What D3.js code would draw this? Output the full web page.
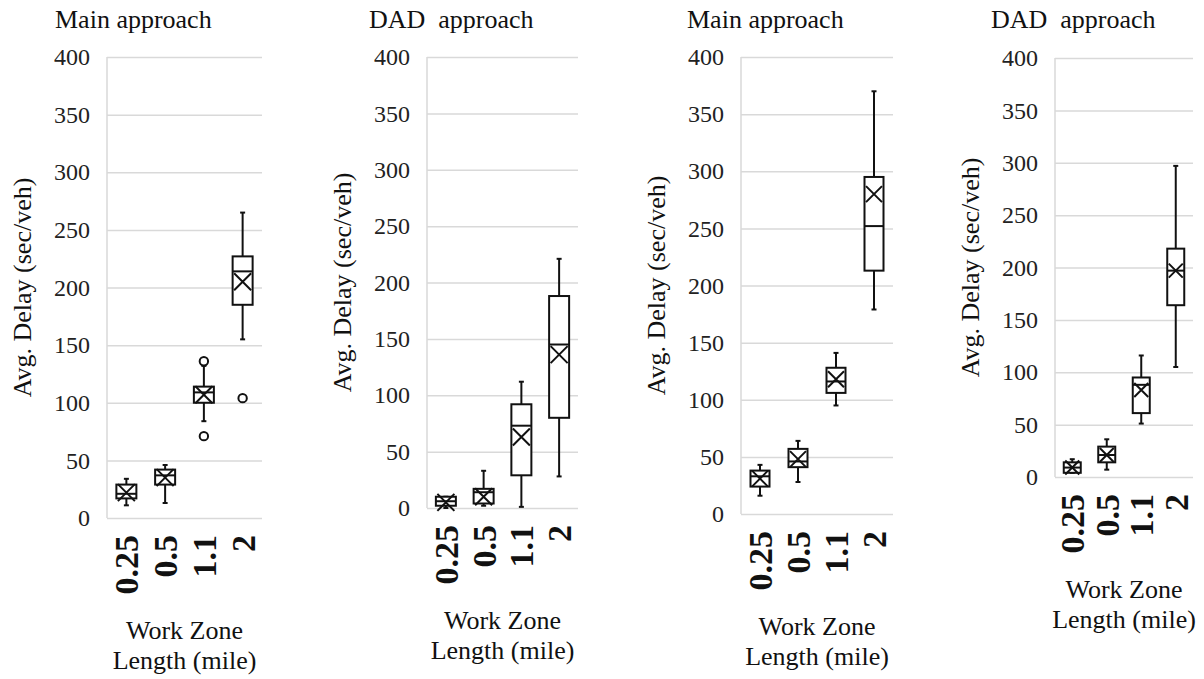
<!DOCTYPE html>
<html><head><meta charset="utf-8">
<script src="https://cdn.jsdelivr.net/npm/d3@7"></script>
<style>
html,body{margin:0;padding:0;background:#fff;}
</style></head>
<body><svg id="chart" width="1204" height="679" font-family="Liberation Serif, DejaVu Serif, serif"></svg>
<script>
// ---- data ----
const categories = ["0.25", "0.5", "1.1", "2"];
const yTicks = [0, 50, 100, 150, 200, 250, 300, 350, 400];
const panelTitles = ["Main approach", "DAD  approach", "Main approach", "DAD  approach"];
const yAxisTitle = "Avg. Delay (sec/veh)";
const xAxisTitle = ["Work Zone", "Length (mile)"];

// each: [whiskerLow, q1, median, q3, whiskerHigh, mean]
const panel1Stats = [[11,17,21,29,34,22],[13,29,37,42,46,35],[84,100,109,114,132,107],[155,185,214,227,265,205]];
const panel1Outliers = [[],[],[136,71],[104]];
const panel2Stats = [[0,2,6,10,10,5],[2,4,14,17,33,10],[1,29,73,92,112,63],[28,80,145,188,221,136]];
const panel2Outliers = [[],[],[],[]];
const panel3Stats = [[16,24,33,38,43,31],[28,41,46,57,64,48],[95,106,116,128,141,118],[179,213,252,295,370,280]];
const panel3Outliers = [[],[],[],[]];
const panel4Stats = [[4,4,9,14,17,9],[7,14,21,29,36,21],[51,61,88,95,116,83],[105,164,197,218,297,197]];
const panel4Outliers = [[],[],[],[]];

// ---- layout ----
const panels = [
  {stats: panel1Stats, outliers: panel1Outliers, left:107, right:262, top:57, bottom:518, titleX:55, boxW:20},
  {stats: panel2Stats, outliers: panel2Outliers, left:427, right:578, top:57, bottom:508, titleX:369, boxW:20},
  {stats: panel3Stats, outliers: panel3Outliers, left:741, right:893, top:57, bottom:514, titleX:687, boxW:19},
  {stats: panel4Stats, outliers: panel4Outliers, left:1055, right:1193, top:58, bottom:477, titleX:991, boxW:17}
];

const FONT = "Liberation Serif, DejaVu Serif, serif";
const svg = d3.select("#chart");
const gridColor = "#d9d9d9";
const ink = "#111";

panels.forEach((p, pi) => {
  const g = svg.append("g").attr("font-family", FONT);
  const x = d3.scaleBand().domain(categories).range([p.left, p.right]).padding(0);
  const y = d3.scaleLinear().domain([0, 400]).range([p.bottom, p.top]);

  const ax = g.append("g").attr("transform", `translate(${p.left},0)`)
    .call(d3.axisLeft(y).tickValues(yTicks).tickSize(-(p.right - p.left)).tickPadding(17).tickFormat(d3.format("d")));
  ax.attr("font-family", FONT).attr("font-size", 24);
  ax.select(".domain").remove();
  ax.selectAll(".tick line").attr("stroke", gridColor).attr("stroke-width", 1.5);
  ax.selectAll(".tick text").attr("fill", "#222").attr("font-family", FONT).attr("font-size", 24);
  g.append("line").attr("x1", p.left).attr("x2", p.left).attr("y1", y(400)).attr("y2", y(0))
    .attr("stroke", gridColor).attr("stroke-width", 1.5);

  g.selectAll(".xl").data(categories).enter().append("text")
    .attr("transform", d => `translate(${x(d) + x.bandwidth()/2},${p.bottom + 17}) rotate(-90)`)
    .attr("text-anchor", "end").attr("dy", "0.35em")
    .attr("font-family", FONT).attr("font-size", 34).attr("font-weight", "bold").attr("fill", ink)
    .text(d => d);

  const bw = p.boxW;
  p.stats.forEach((s, i) => {
    const cx = x(categories[i]) + x.bandwidth()/2;
    const [lo, q1, med, q3, hi, mean] = s;
    const bg = g.append("g").attr("stroke", ink).attr("stroke-width", 2).attr("fill", "none");
    bg.append("line").attr("x1", cx).attr("x2", cx).attr("y1", y(hi)).attr("y2", y(q3));
    bg.append("line").attr("x1", cx).attr("x2", cx).attr("y1", y(q1)).attr("y2", y(lo));
    bg.append("line").attr("x1", cx-2.5).attr("x2", cx+2.5).attr("y1", y(hi)).attr("y2", y(hi));
    bg.append("line").attr("x1", cx-2.5).attr("x2", cx+2.5).attr("y1", y(lo)).attr("y2", y(lo));
    bg.append("rect").attr("x", cx - bw/2).attr("y", y(q3)).attr("width", bw)
      .attr("height", Math.max(0.5, y(q1) - y(q3))).attr("fill", "#fff");
    bg.append("line").attr("x1", cx - bw/2).attr("x2", cx + bw/2).attr("y1", y(med)).attr("y2", y(med));
    const m = bw/2 - 1.5, my = y(mean);
    bg.append("path").attr("d", `M${cx-m},${my-m}L${cx+m},${my+m}M${cx-m},${my+m}L${cx+m},${my-m}`);
    p.outliers[i].forEach(v => {
      bg.append("circle").attr("cx", cx).attr("cy", y(v)).attr("r", 4.2).attr("fill", "#fff");
    });
  });

  g.append("text").attr("x", p.titleX).attr("y", 28).attr("font-family", FONT).attr("font-size", 26)
    .attr("xml:space", "preserve").style("white-space", "pre").attr("fill", ink).text(panelTitles[pi]);

  g.append("text")
    .attr("transform", `translate(${p.left - 85},${(y(0) + y(400))/2}) rotate(-90)`)
    .attr("text-anchor", "middle").attr("dominant-baseline", "central")
    .attr("font-family", FONT).attr("font-size", 26).attr("fill", ink).text(yAxisTitle);

  const cxm = (p.left + p.right)/2;
  xAxisTitle.forEach((t, k) => {
    g.append("text").attr("x", cxm).attr("y", p.bottom + 121 + k*30)
      .attr("text-anchor", "middle").attr("font-family", FONT).attr("font-size", 26).attr("fill", ink).text(t);
  });
});
</script></body></html>
